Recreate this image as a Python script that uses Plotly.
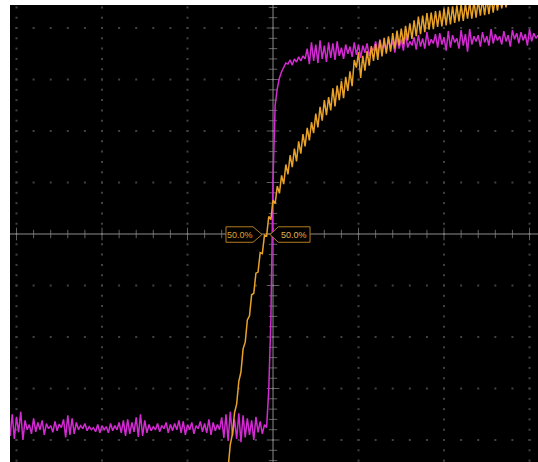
import plotly.graph_objects as go

# Time base (ns): scope samples start / increment
MAG_T0, ORA_T0, DT = -31.0, -5.5, 0.25

# Channel A (magenta), mV
MAGENTA_MV = [
    -360, -392, -350, -398, -355, -385, -345, -400, -362, -380,
    -370, -388, -358, -384, -366, -380, -362, -390, -368, -378,
    -372, -385, -364, -382, -369, -376, -360, -395, -352, -390,
    -358, -388, -366, -380, -372, -378, -368, -382, -374, -380,
    -376, -384, -370, -386, -372, -380, -374, -386, -368, -382,
    -372, -380, -366, -386, -362, -392, -360, -388, -366, -384,
    -356, -394, -350, -392, -362, -386, -370, -382, -374, -380,
    -368, -384, -372, -378, -366, -386, -370, -382, -368, -380,
    -362, -386, -364, -390, -370, -380, -366, -388, -372, -378,
    -364, -384, -368, -386, -360, -390, -366, -382, -370, -380,
    -356, -396, -350, -402, -345, -392, -360, -398, -348, -404,
    -352, -395, -358, -390, -362, -400, -355, -385, -364, -388,
    -370, -376,
    -303, -167, 105, 250, 283, 303, 315, 324, 332,
    330, 338, 328, 340, 334, 344, 336, 346, 340, 360,
    330, 372, 336, 368, 332, 376, 340, 366, 334, 372,
    342, 370, 338, 374, 346, 362, 340, 368, 350, 364,
    344, 372, 348, 368, 342, 366, 352, 370, 346, 362,
    356, 374, 350, 378, 358, 372, 354, 380, 360, 376,
    352, 384, 360, 378, 356, 390, 362, 374, 366, 382,
    358, 386, 364, 380, 360, 392, 366, 378, 370, 388,
    362, 390, 368, 382, 356, 394, 362, 386, 372, 380,
    360, 396, 366, 388, 354, 398, 368, 384, 374, 386,
    364, 392, 372, 384, 366, 398, 370, 388, 376, 384,
    368, 394, 374, 386, 364, 396, 378, 390, 370, 392,
    376, 388, 366, 398, 374, 390, 380, 386,
]

# Channel B (orange), mV
ORANGE_MV = [
    -480, -454, -409, -389, -347, -330, -286, -268, -223, -210,
    -167, -159, -118, -115, -76, -74, -36, -38, -2, -4,
    34, 28, 66, 59, 93, 79, 114, 97, 135, 116,
    153, 130, 166, 141, 180, 156, 194, 170, 206, 182,
    217, 196, 234, 207, 247, 220, 260, 231, 266, 240,
    283, 248, 288, 260, 297, 264, 305, 278, 316, 287,
    338, 323, 353, 303, 346, 317, 355, 327, 365, 336,
    369, 338, 376, 345, 381, 350, 384, 354, 390, 360,
    395, 366, 399, 368, 404, 376, 409, 379, 415, 384,
    422, 388, 424, 392, 429, 397, 430, 398, 433, 402,
    434, 403, 438, 405, 441, 407, 442, 410, 444, 413,
    446, 414, 447, 418, 450, 418, 452, 420, 454, 424,
    456, 425, 459, 427, 461, 430, 460, 434, 463, 438,
    463, 440, 462,
]

# 50% reference markers (ns positions of pointer tips) and label text
REF_LEFT_TIP, REF_RIGHT_TIP = -1.29, -0.35
REF_LABEL = "50.0%"

X_RANGE = [-30.76, 30.99]
Y_RANGE = [-442.7, 444.7]
X_DIV, Y_DIV = 10, 100

mag_t = [MAG_T0 + i * DT for i in range(len(MAGENTA_MV))]
ora_t = [ORA_T0 + i * DT for i in range(len(ORANGE_MV))]

fig = go.Figure()

# graticule dots
gx, gy = [], []
for xv in range(-30, 31, X_DIV):
    if xv == 0:
        continue
    for k in range(-22, 23):
        gx.append(xv); gy.append(k * 20)
for yv in range(-400, 401, Y_DIV):
    if yv == 0:
        continue
    for k in range(-15, 16):
        gx.append(k * 2); gy.append(yv)
fig.add_trace(go.Scatter(x=gx, y=gy, mode="markers",
                         marker=dict(symbol="square", size=2, color="#424242", line=dict(width=0)),
                         hoverinfo="skip", showlegend=False))

# center axes
fig.add_trace(go.Scatter(x=[0, 0], y=Y_RANGE, mode="lines", line=dict(color="#8c8c8c", width=1),
                         hoverinfo="skip", showlegend=False))
fig.add_trace(go.Scatter(x=X_RANGE, y=[0, 0], mode="lines", line=dict(color="#8c8c8c", width=1),
                         hoverinfo="skip", showlegend=False))
vt = [k * 20 for k in range(-22, 23)]
fig.add_trace(go.Scatter(x=[0] * len(vt), y=vt, mode="markers",
                         marker=dict(symbol="line-ew", size=[9 if v % 100 == 0 else 6 for v in vt],
                                     line=dict(color="#8c8c8c", width=1)),
                         hoverinfo="skip", showlegend=False))
ht = [k * 2 for k in range(-15, 16)]
fig.add_trace(go.Scatter(x=ht, y=[0] * len(ht), mode="markers",
                         marker=dict(symbol="line-ns", size=[9 if v % 10 == 0 else 6 for v in ht],
                                     line=dict(color="#8c8c8c", width=1)),
                         hoverinfo="skip", showlegend=False))

# waveforms
fig.add_trace(go.Scatter(x=mag_t, y=MAGENTA_MV, mode="lines",
                         line=dict(color="#d42ad4", width=1.5), hoverinfo="skip", showlegend=False))
fig.add_trace(go.Scatter(x=ora_t, y=ORANGE_MV, mode="lines",
                         line=dict(color="#e9a227", width=1.5), hoverinfo="skip", showlegend=False))

# 50% reference flags
box_col = "#b57c1e"
lx0, lx1 = REF_LEFT_TIP - 4.21, REF_LEFT_TIP - 1.05
rx0, rx1 = REF_RIGHT_TIP + 0.97, REF_RIGHT_TIP + 4.68
yt, yb = 14, -16
fig.add_shape(type="path", xref="x", yref="y",
              path=f"M {lx0},{yt} L {lx1},{yt} L {REF_LEFT_TIP},{(yt+yb)/2} L {lx1},{yb} L {lx0},{yb} Z",
              line=dict(color=box_col, width=1), fillcolor="black")
fig.add_shape(type="path", xref="x", yref="y",
              path=f"M {REF_RIGHT_TIP},{(yt+yb)/2} L {rx0},{yt} L {rx1},{yt} L {rx1},{yb} L {rx0},{yb} Z",
              line=dict(color=box_col, width=1), fillcolor="black")
fig.add_annotation(x=(lx0 + lx1) / 2, y=(yt + yb) / 2, text=REF_LABEL, showarrow=False,
                   font=dict(family="Liberation Sans", size=9, color="#e0a030"))
fig.add_annotation(x=(rx0 + rx1) / 2, y=(yt + yb) / 2, text=REF_LABEL, showarrow=False,
                   font=dict(family="Liberation Sans", size=9, color="#e8b050"))

fig.update_layout(
    width=538, height=462,
    margin=dict(l=10, r=0, t=5, b=0),
    paper_bgcolor="white", plot_bgcolor="black",
    hovermode=False,
    xaxis=dict(range=X_RANGE, showgrid=False, zeroline=False, showticklabels=False,
               ticks="", showline=False, fixedrange=True),
    yaxis=dict(range=Y_RANGE, showgrid=False, zeroline=False, showticklabels=False,
               ticks="", showline=False, fixedrange=True),
)

fig.write_html("out.html", config={"displayModeBar": False},
               post_script="document.body.style.margin='0px';document.body.style.overflow='hidden';")
